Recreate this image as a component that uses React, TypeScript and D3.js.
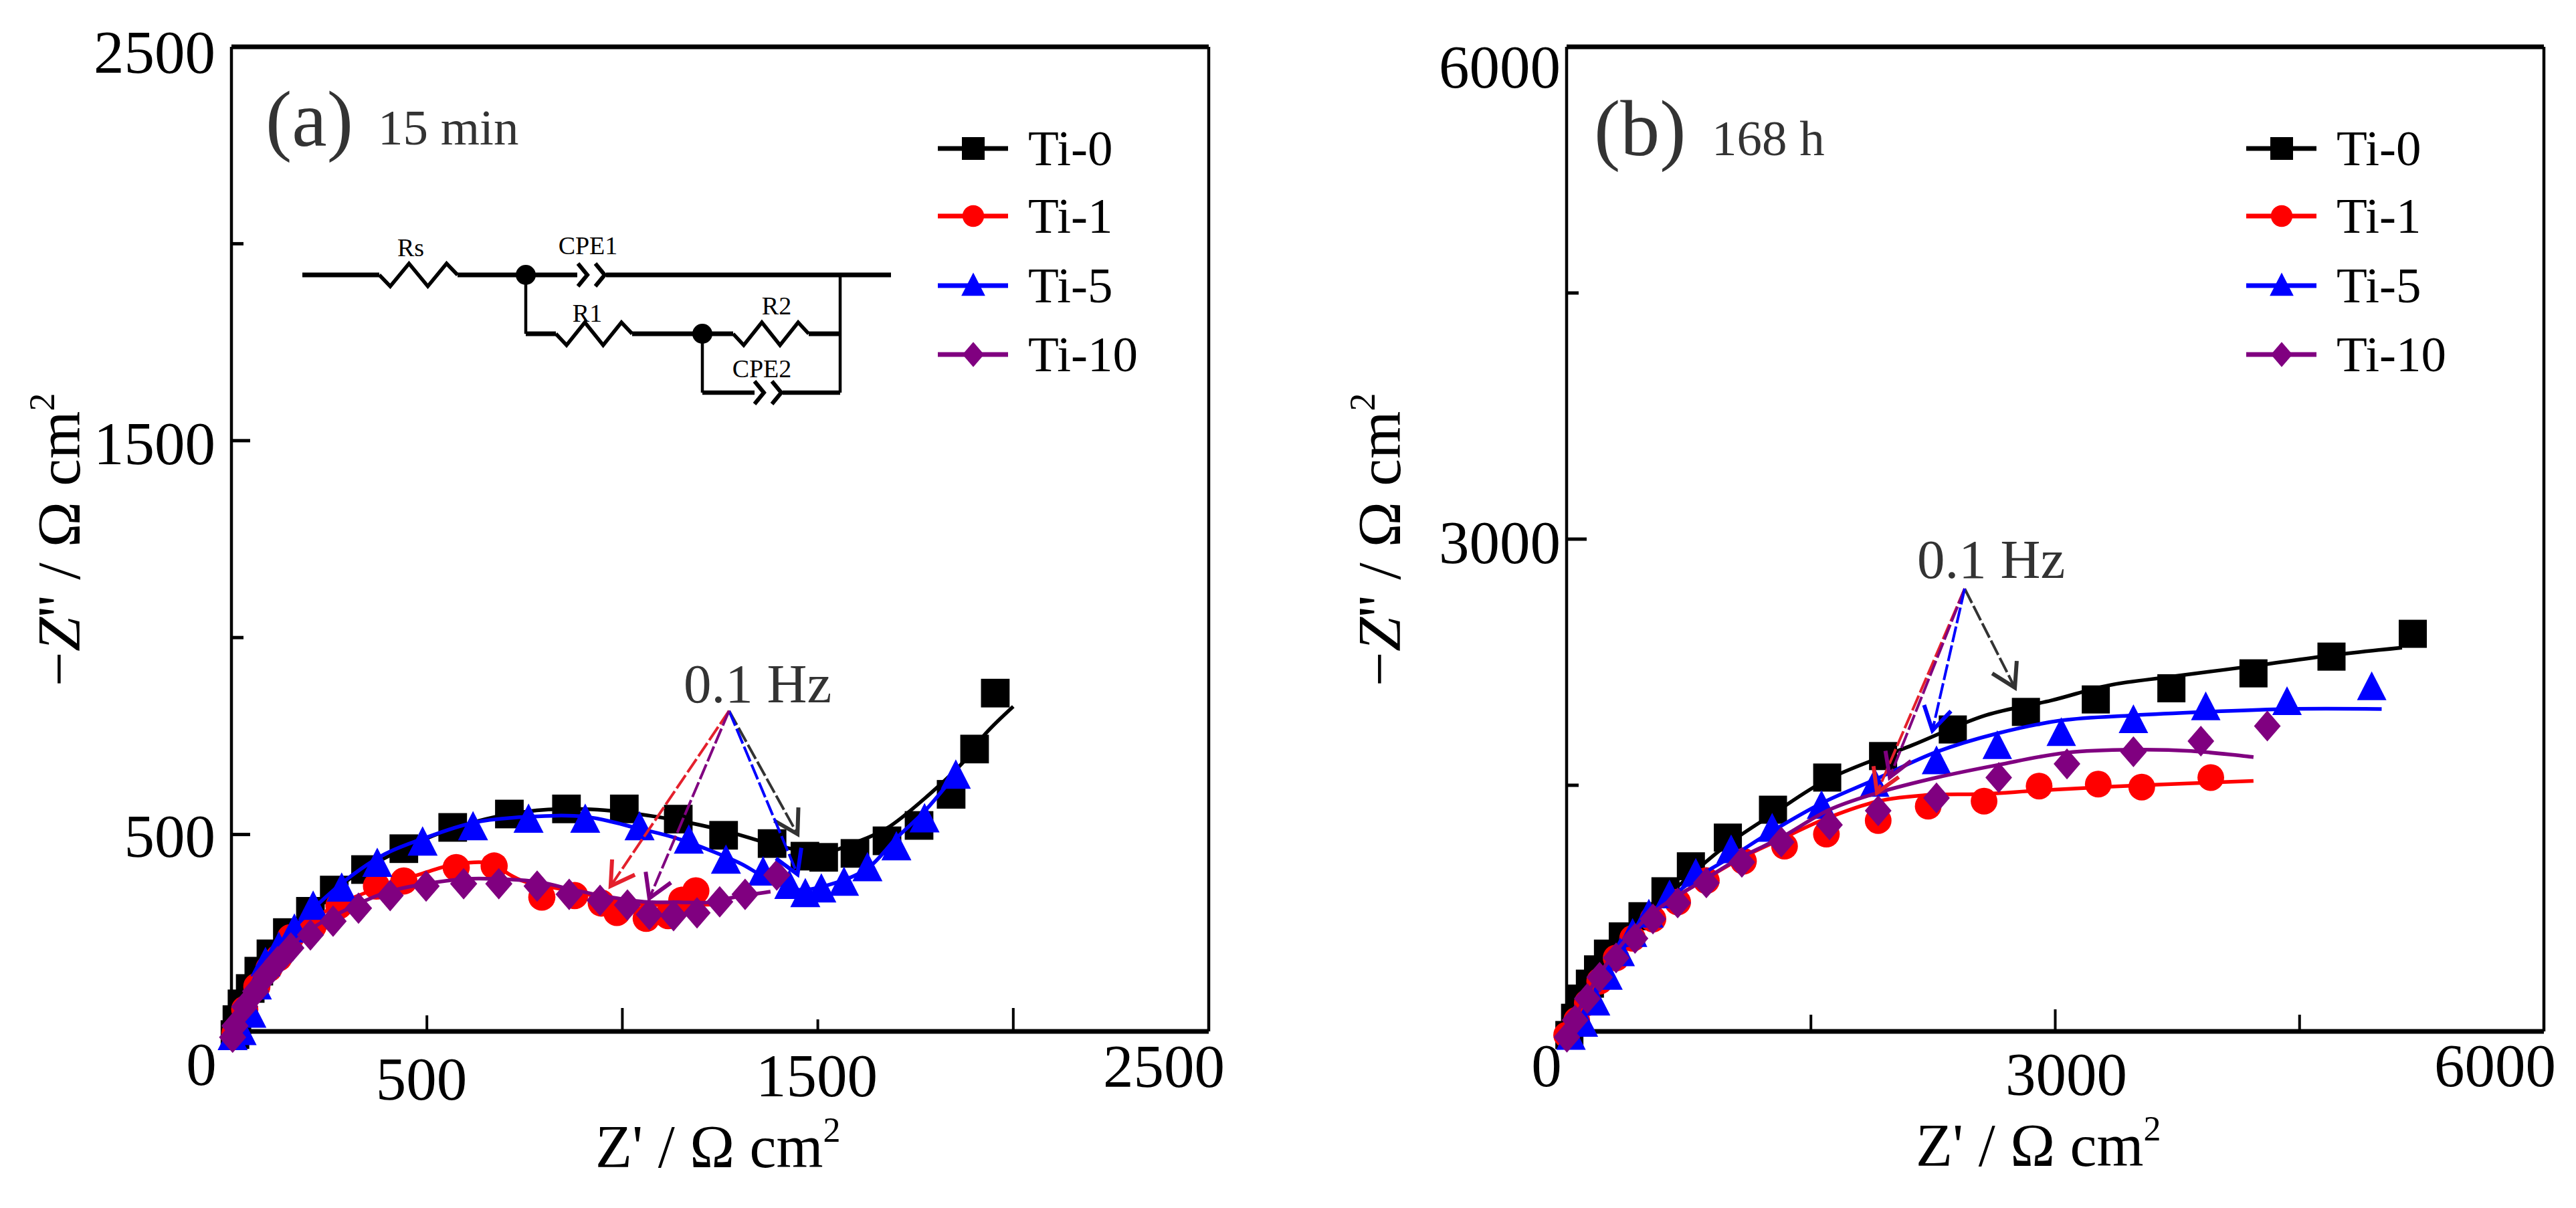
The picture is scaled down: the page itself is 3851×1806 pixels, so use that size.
import React from "react";
import * as d3 from "d3";

type P = [number, number];
const W = 3851, H = 1806;

// ---------- Panel (a) 15 min : [Z', -Z''] ----------
const a0: P[] = [[9,-8],[14,30],[27,70],[48,109],[70,153],[101,197],[143,251],[202,305],[263,359],[343,411],[441,464],[566,518],[711,552],[857,565],[1005,565],[1143,539],[1259,498],[1383,477],[1467,445],[1515,442],[1595,452],[1677,484],[1759,523],[1841,602],[1901,717],[1954,859]];
const a0Fit: P[] = [[2,-4],[38,60],[101,168],[185,275],[291,379],[416,452],[584,521],[753,558],[920,564],[1088,545],[1256,511],[1403,470],[1515,455],[1603,482],[1677,516],[1782,599],[1876,688],[1929,756],[2000,825]];
const a1: P[] = [[9,-5],[34,56],[65,114],[96,160],[121,187],[151,238],[209,267],[275,319],[371,369],[441,382],[575,416],[672,420],[794,341],[878,345],[946,326],[986,302],[1061,287],[1117,294],[1152,333],[1188,357]];
const a1Fit: P[] = [[9,-5],[34,56],[87,150],[151,235],[236,302],[315,341],[400,372],[489,401],[575,425],[672,425],[707,401],[751,380],[881,355],[968,335],[1056,322],[1143,322],[1230,322]];
const a5: P[] = [[3,-15],[26,-2],[51,42],[65,114],[87,173],[121,212],[161,258],[209,316],[282,362],[373,425],[489,479],[618,518],[760,537],[905,537],[1044,518],[1170,484],[1265,433],[1360,403],[1427,369],[1468,348],[1509,360],[1567,377],[1627,414],[1701,467],[1773,538],[1853,649]];
const a5Fit: P[] = [[9,-8],[51,82],[96,160],[157,258],[228,329],[296,387],[392,450],[489,489],[619,530],[760,545],[905,545],[1042,515],[1143,489],[1299,428],[1360,394],[1444,360],[1528,372],[1627,414],[1701,491],[1773,559],[1853,654]];
const a10: P[] = [[3,-15],[9,14],[34,63],[62,102],[87,141],[118,177],[152,212],[202,245],[260,280],[325,313],[406,345],[498,369],[594,375],[684,375],[782,369],[864,348],[943,333],[1013,321],[1069,297],[1131,294],[1191,301],[1249,329],[1314,348],[1395,397]];
const a10Fit: P[] = [[3,-15],[34,63],[87,153],[140,205],[200,258],[323,323],[402,355],[498,375],[594,387],[684,387],[782,380],[881,358],[968,341],[1056,329],[1143,328],[1230,328],[1283,340],[1379,355]];

// ---------- Panel (b) 168 h ----------
const b0: P[] = [[17,-22],[52,83],[92,200],[143,291],[193,378],[254,474],[345,579],[466,702],[607,854],[763,1006],[990,1181],[1267,1351],[1600,1547],[1943,1678],[2371,1840],[2820,1947],[3249,2023],[3713,2091],[4217,2182],[4696,2284],[5195,2423]];
const b0Fit: P[] = [[2,-22],[77,174],[229,435],[457,671],[708,906],[990,1141],[1267,1325],[1600,1534],[2119,1743],[2573,1926],[2977,2017],[3329,2109],[3713,2162],[4217,2227],[4696,2292],[5129,2339]];
const b1: P[] = [[0,-22],[62,69],[127,175],[203,306],[304,448],[405,567],[530,685],[682,788],[858,919],[1086,1037],[1338,1129],[1595,1202],[1913,1285],[2220,1372],[2563,1403],[2901,1495],[3264,1507],[3531,1489],[3955,1547]];
const b1Fit: P[] = [[2,-22],[127,226],[304,489],[530,723],[858,932],[1086,1063],[1338,1182],[1595,1298],[1913,1403],[2220,1441],[2563,1447],[2901,1468],[3531,1500],[4217,1526]];
const b5: P[] = [[27,-35],[103,44],[178,174],[254,331],[329,474],[405,592],[505,710],[632,827],[793,958],[1010,1102],[1262,1233],[1565,1372],[1892,1507],[2271,1644],[2644,1737],[3037,1816],[3480,1895],[3924,1973],[4423,2005],[4943,2096]];
const b5Fit: P[] = [[27,-35],[178,226],[329,478],[505,697],[793,932],[1010,1063],[1262,1220],[1565,1390],[1892,1534],[2271,1703],[2644,1816],[3037,1895],[3480,1926],[3924,1947],[4423,1965],[5004,1965]];
const b10: P[] = [[2,-35],[52,69],[127,200],[203,330],[304,448],[420,567],[530,685],[682,783],[858,905],[1076,1031],[1318,1154],[1614,1259],[1913,1345],[2271,1423],[2653,1547],[3072,1630],[3480,1704],[3894,1769],[4302,1861]];
const b10Fit: P[] = [[2,-22],[127,226],[304,489],[530,723],[858,932],[1076,1063],[1318,1182],[1614,1351],[1913,1455],[2271,1547],[2653,1625],[3072,1699],[3480,1717],[3834,1709],[4217,1671]];

// ---------- Annotation arrows (apex + tips) ----------
const aApex: P = [1273, 814];
const aTips: [string, P][] = [["#333333",[1448,501]],["#0000ff",[1448,399]],["#e4202c",[970,369]],["#800080",[1069,338]]];
const bApex: P = [2444, 2698];
const bTips: [string, P][] = [["#333333",[2752,2095]],["#e4202c",[1906,1455]],["#800080",[1984,1549]],["#0000ff",[2246,1834]]];

// ---------- Ticks and text ----------
const aMax = 2500, bMax = 6000;
const aXTicks = [500, 1000, 1500, 2000];
const aYTicks = [500, 1000, 1500, 2000, 2500];
const bXTicks = [1500, 3000, 4500];
const bYTicks = [1500, 3000, 4500];
const seriesNames = ["Ti-0", "Ti-1", "Ti-5", "Ti-10"];
const seriesColors = ["#000000", "#ff0000", "#0000ff", "#800080"];
const aXLabels = ["0", "500", "1500", "2500"];
const aYLabels = ["2500", "1500", "500"];
const bXLabels = ["0", "3000", "6000"];
const bYLabels = ["6000", "3000"];

const FONT = "'Liberation Serif','Times New Roman',serif";

function Marker({ kind, x, y, color, s = 1 }: { kind: number; x: number; y: number; color: string; s?: number }) {
  if (kind === 0) return <rect x={x - 20 * s} y={y - 20 * s} width={40 * s} height={40 * s} fill={color} />;
  if (kind === 1) return <circle cx={x} cy={y} r={19 * s} fill={color} />;
  if (kind === 2) return <path d={`M${x},${y - 23 * s}L${x + 21 * s},${y + 18 * s}L${x - 21 * s},${y + 18 * s}Z`} fill={color} />;
  return <path d={`M${x},${y - 22 * s}L${x + 19 * s},${y}L${x},${y + 22 * s}L${x - 19 * s},${y}Z`} fill={color} />;
}

function Arrow({ from, to, color }: { from: P; to: P; color: string }) {
  const ang = Math.atan2(from[1] - to[1], from[0] - to[0]);
  const len = 40, sp = 0.54;
  const b1: P = [to[0] + len * Math.cos(ang + sp), to[1] + len * Math.sin(ang + sp)];
  const b2: P = [to[0] + len * Math.cos(ang - sp), to[1] + len * Math.sin(ang - sp)];
  return (
    <g fill="none" stroke={color}>
      <line x1={from[0]} y1={from[1]} x2={to[0]} y2={to[1]} strokeWidth={4} strokeDasharray="24 5" />
      <path d={`M${b1[0]},${b1[1]}L${to[0]},${to[1]}L${b2[0]},${b2[1]}`} strokeWidth={6} />
    </g>
  );
}

function Zig({ x0, x1, y }: { x0: number; x1: number; y: number }) {
  const w = x1 - x0, a = 17;
  const pts: P[] = [[x0, y], [x0 + 0.14 * w, y + a], [x0 + 0.38 * w, y - a], [x0 + 0.62 * w, y + a], [x0 + 0.86 * w, y - a], [x1, y]];
  return <path d={d3.line()(pts) as string} fill="none" stroke="#000" strokeWidth={5.5} />;
}

function Chev({ x, y }: { x: number; y: number }) {
  return (
    <g fill="none" stroke="#000" strokeWidth={6}>
      <path d={`M${x},${y - 17}L${x + 14},${y}L${x},${y + 17}`} />
      <path d={`M${x + 26},${y - 17}L${x + 40},${y}L${x + 26},${y + 17}`} />
    </g>
  );
}

function Circuit() {
  const t = { fontFamily: FONT, fontSize: 38, fill: "#000", textAnchor: "middle" as const };
  return (
    <g>
      <g stroke="#000" fill="none">
        <path d="M452,411H567M684,411H863M906,411H1332" strokeWidth={7} />
        <path d="M786,411V499" strokeWidth={4.5} />
        <path d="M786,499H831M945,499H1096M1209,499H1256" strokeWidth={7} />
        <path d="M1256,411V587" strokeWidth={4.5} />
        <path d="M1050,499V587" strokeWidth={4.5} />
        <path d="M1050,587H1128M1170,587H1256" strokeWidth={6.5} />
      </g>
      <Zig x0={567} x1={684} y={411} />
      <Zig x0={831} x1={945} y={499} />
      <Zig x0={1096} x1={1209} y={499} />
      <Chev x={864} y={411} />
      <Chev x={1128} y={587} />
      <circle cx={786} cy={411} r={15} fill="#000" />
      <circle cx={1050} cy={499} r={15} fill="#000" />
      <text x={614} y={383} {...t}>Rs</text>
      <text x={879} y={380} {...t}>CPE1</text>
      <text x={878} y={481} {...t}>R1</text>
      <text x={1161} y={470} {...t}>R2</text>
      <text x={1139} y={564} {...t}>CPE2</text>
    </g>
  );
}

type Series = { pts: P[]; fit: P[] };
type PanelProps = {
  left: number; max: number; xTicks: number[]; yTicks: number[];
  xLabels: string[]; yLabels: string[];
  xLabelPos: number[][]; yLabelBase: number[]; yLabelRight: number;
  series: Series[]; apex: P; tips: [string, P][];
  tag: string; tagX: number; tagY: number; note: string; noteX: number; noteY: number;
  hzX: number; hzY: number; legendX: number; xTitle: number[]; yTitleX: number;
  tickLen: (v: number, axis: "x" | "y") => number; sq: number;
};

const right = 1461, top = 70, bottom = 1542;

function Panel(p: PanelProps) {
  const x = d3.scaleLinear().domain([0, p.max]).range([p.left, p.left + right]);
  const y = d3.scaleLinear().domain([0, p.max]).range([bottom, top]);
  const line = d3.line<P>().x(d => x(d[0])).y(d => y(d[1])).curve(d3.curveCatmullRom.alpha(0.5));
  const txt = { fontFamily: FONT, fill: "#000" };
  return (
    <g>
      <g stroke="#000" fill="none">
        <line x1={p.left} x2={p.left + right} y1={top} y2={top} strokeWidth={7} />
        <line x1={p.left} x2={p.left + right} y1={bottom} y2={bottom} strokeWidth={7} />
        <line x1={p.left} x2={p.left} y1={top} y2={bottom} strokeWidth={4.5} />
        <line x1={p.left + right} x2={p.left + right} y1={top} y2={bottom} strokeWidth={4.5} />
        {p.xTicks.map(v => <line key={v} x1={x(v)} x2={x(v)} y1={bottom} y2={bottom - p.tickLen(v, "x")} strokeWidth={4} />)}
        {p.yTicks.map(v => <line key={v} x1={p.left} x2={p.left + p.tickLen(v, "y")} y1={y(v)} y2={y(v)} strokeWidth={5} />)}
      </g>

      {p.series.map((s, i) => (
        <g key={i}>
          {s.pts.map((d, j) => <Marker key={j} kind={i} x={x(d[0])} y={y(d[1])} color={seriesColors[i]} s={p.sq} />)}
          <path d={line(s.fit) as string} fill="none" stroke={seriesColors[i]} strokeWidth={5.5} />
        </g>
      ))}

      {p.tips.map(([c, t], i) => (
        <Arrow key={i} from={[x(p.apex[0]), y(p.apex[1])]} to={[x(t[0]), y(t[1])]} color={c} />
      ))}

      {p.xLabels.map((l, i) => (
        <text key={l} x={p.xLabelPos[i][0]} y={p.xLabelPos[i][1]} textAnchor="middle" fontSize={91} {...txt}>{l}</text>
      ))}
      {p.yLabels.map((l, i) => (
        <text key={l} x={p.yLabelRight} y={p.yLabelBase[i]} textAnchor="end" fontSize={91} {...txt}>{l}</text>
      ))}

      <text x={p.xTitle[0]} y={p.xTitle[1]} fontSize={90} {...txt}>
        Z' / Ω cm<tspan fontSize={52} dy={-38}>2</tspan>
      </text>
      <text transform={`translate(${p.yTitleX},1026) rotate(-90)`} fontSize={92} {...txt}>
        −<tspan fontStyle="italic">Z</tspan>'' / Ω cm<tspan fontSize={54} dy={-38}>2</tspan>
      </text>

      <text x={p.tagX} y={p.tagY} fontSize={118} fontFamily={FONT} fill="#333">{p.tag}</text>
      <text x={p.noteX} y={p.noteY} fontSize={75} fontFamily={FONT} fill="#333">{p.note}</text>
      <text x={p.hzX} y={p.hzY} fontSize={83} fontFamily={FONT} fill="#333">0.1 Hz</text>

      {seriesNames.map((n, i) => {
        const ly = [222, 323, 427, 530][i];
        return (
          <g key={n}>
            <line x1={p.legendX} x2={p.legendX + 105} y1={ly} y2={ly} stroke={seriesColors[i]} strokeWidth={7} />
            <Marker kind={i} x={p.legendX + 53} y={ly} color={seriesColors[i]} s={0.85} />
            <text x={p.legendX + 135} y={ly + 25} fontSize={75} {...txt}>{n}</text>
          </g>
        );
      })}
    </g>
  );
}

export default function App() {
  return (
    <svg width={W} height={H} viewBox={`0 0 ${W} ${H}`} style={{ position: "absolute", left: 0, top: 0, display: "block", background: "#fff" }}>
      <Panel
        left={346} max={aMax} xTicks={aXTicks} yTicks={aYTicks}
        xLabels={aXLabels} yLabels={aYLabels}
        xLabelPos={[[301, 1622], [630, 1644], [1221, 1639], [1740, 1625]]}
        yLabelBase={[109, 694, 1281]} yLabelRight={322}
        series={[{ pts: a0, fit: a0Fit }, { pts: a1, fit: a1Fit }, { pts: a5, fit: a5Fit }, { pts: a10, fit: a10Fit }]}
        apex={aApex} tips={aTips}
        tag="(a)" tagX={397} tagY={218} note="15 min" noteX={565} noteY={216}
        hzX={1022} hzY={1050} legendX={1402} xTitle={[890, 1745]} yTitleX={119}
        tickLen={(v, a) => a === "y" ? (v === 500 || v === 1500 ? 28 : 18) : (v === 1000 || v === 2000 ? 35 : v === 500 ? 24 : 18)} sq={1.07}
      />
      <Panel
        left={2342} max={bMax} xTicks={bXTicks} yTicks={bYTicks}
        xLabels={bXLabels} yLabels={bYLabels}
        xLabelPos={[[2312, 1624], [3089, 1637], [3730, 1624]]}
        yLabelBase={[131, 842]} yLabelRight={2333}
        series={[{ pts: b0, fit: b0Fit }, { pts: b1, fit: b1Fit }, { pts: b5, fit: b5Fit }, { pts: b10, fit: b10Fit }]}
        apex={bApex} tips={bTips}
        tag="(b)" tagX={2383} tagY={232} note="168 h" noteX={2559} noteY={232}
        hzX={2866} hzY={864} legendX={3358} xTitle={[2864, 1743]} yTitleX={2093}
        tickLen={(v, a) => a === "y" ? (v === 3000 ? 30 : 18) : (v === 3000 ? 33 : 25)} sq={1.05}
      />
      <Circuit />
    </svg>
  );
}
